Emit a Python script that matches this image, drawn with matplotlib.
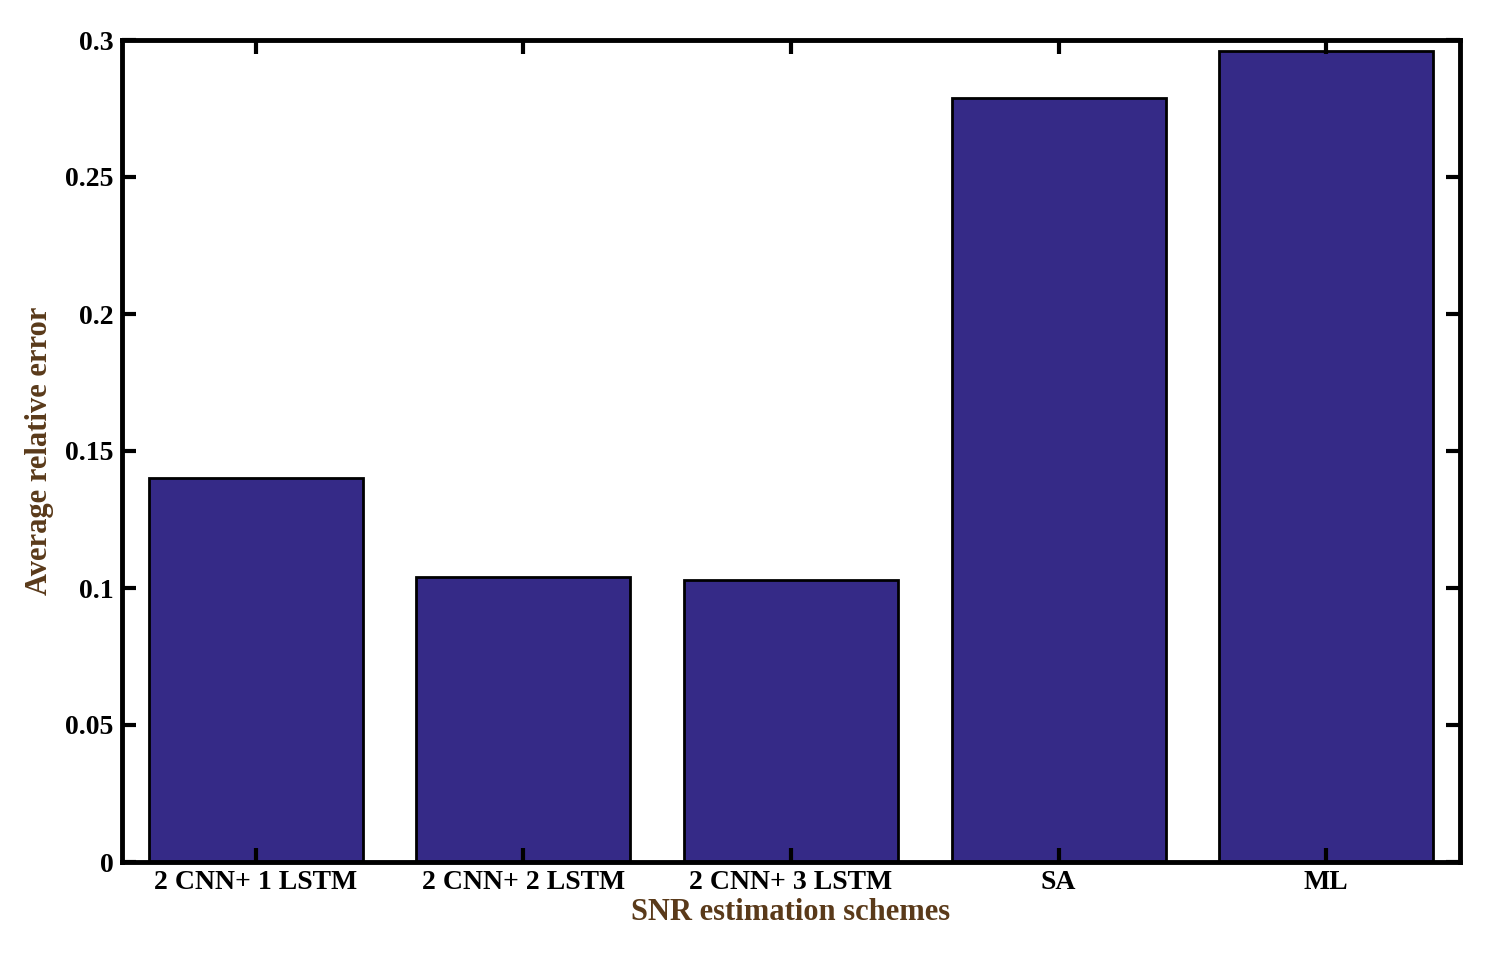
import matplotlib.pyplot as plt

schemes = ['2 CNN+ 1 LSTM', '2 CNN+ 2 LSTM', '2 CNN+ 3 LSTM', 'SA', 'ML']
avg_rel_error = [0.140, 0.104, 0.103, 0.279, 0.296]
yticks = [0, 0.05, 0.1, 0.15, 0.2, 0.25, 0.3]
ytick_labels = ['0', '0.05', '0.1', '0.15', '0.2', '0.25', '0.3']

plt.rcParams['font.family'] = ['Liberation Serif', 'DejaVu Serif']
plt.rcParams['font.weight'] = 'bold'

fig = plt.figure(figsize=(14.93, 9.8), dpi=100)
ax = fig.add_axes([122 / 1493, 1 - 862 / 980, (1460 - 122) / 1493, (862 - 40) / 980])

x = range(len(schemes))
ax.bar(x, avg_rel_error, width=0.8, color='#352a87', edgecolor='black', linewidth=2)

ax.set_xlim(-0.5, len(schemes) - 0.5)
ax.set_ylim(0, 0.3)
ax.set_xticks(list(x))
ax.set_xticklabels(schemes, fontsize=20, fontweight='bold')
ax.set_yticks(yticks)
ax.set_yticklabels(ytick_labels, fontsize=20, fontweight='bold')
ax.tick_params(direction='in', length=10, width=3, top=True, right=True, pad=6)
for s in ax.spines.values():
    s.set_linewidth(3.5)

ax.set_xlabel('SNR estimation schemes', fontsize=22, fontweight='bold', color='#5a3a1a', labelpad=2)
ax.set_ylabel('Average relative error', fontsize=22, fontweight='bold', color='#5a3a1a', labelpad=8)

fig.savefig('out.png', dpi=100)
